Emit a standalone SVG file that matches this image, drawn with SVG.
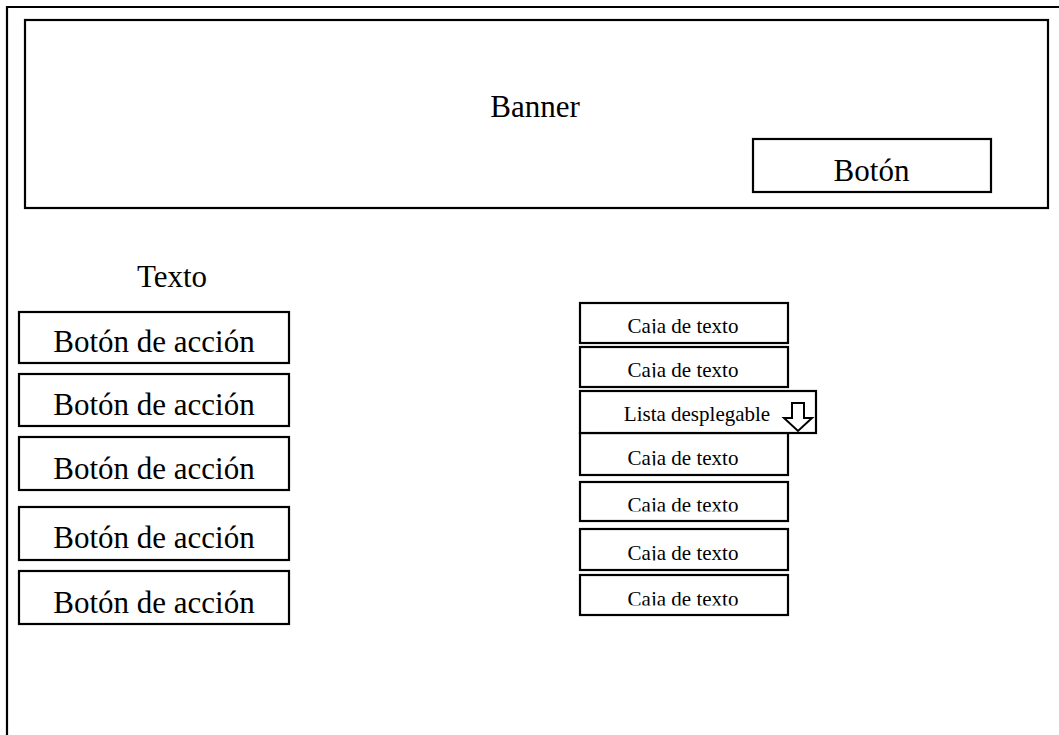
<svg xmlns="http://www.w3.org/2000/svg" width="1059" height="735" viewBox="0 0 1059 735">
<style>
.box{fill:#fff;stroke:#000;stroke-width:2.2}
.frame{fill:none;stroke:#000;stroke-width:2.2}
.big{font-family:"Liberation Serif","Times New Roman",serif;font-size:31px;fill:#000;text-anchor:middle}
.small{font-family:"Liberation Serif","Times New Roman",serif;font-size:21px;fill:#000;text-anchor:middle}
</style>
<defs>
<clipPath id="cajaClip" clipPathUnits="userSpaceOnUse">
<rect x="581" y="304" width="206" height="29.5"/>
<rect x="581" y="348" width="206" height="29.5"/>
<rect x="581" y="436" width="206" height="29.5"/>
<rect x="581" y="483" width="206" height="28.5"/>
<rect x="581" y="530" width="206" height="30.5"/>
<rect x="581" y="576" width="206" height="29.5"/>
</clipPath>
</defs>
<rect width="1059" height="735" fill="#fff"/>
<g id="frame">
<path class="frame" d="M7,735 V7 H1059"/>
</g>
<g id="banner">
<rect class="box" x="25" y="20" width="1023" height="188"/>
<text class="big" x="535" y="117">Banner</text>
</g>
<g id="boton">
<rect class="box" x="753" y="139" width="238" height="53"/>
<text class="big" x="871.5" y="181">Botón</text>
</g>
<g id="texto">
<text class="big" x="172" y="287">Texto</text>
</g>
<g id="accion1">
<rect class="box" x="19" y="312" width="270" height="51"/>
<text class="big" x="154" y="352">Botón de acción</text>
</g>
<g id="accion2">
<rect class="box" x="19" y="374" width="270" height="52"/>
<text class="big" x="154" y="415">Botón de acción</text>
</g>
<g id="accion3">
<rect class="box" x="19" y="437" width="270" height="53"/>
<text class="big" x="154" y="479">Botón de acción</text>
</g>
<g id="accion4">
<rect class="box" x="19" y="507" width="270" height="53"/>
<text class="big" x="154" y="548">Botón de acción</text>
</g>
<g id="accion5">
<rect class="box" x="19" y="571" width="270" height="53"/>
<text class="big" x="154" y="613">Botón de acción</text>
</g>
<g id="caja1">
<rect class="box" x="580" y="303" width="208" height="40"/>
<text class="small" x="683" y="333" clip-path="url(#cajaClip)">Caja de texto</text>
</g>
<g id="caja2">
<rect class="box" x="580" y="347" width="208" height="40"/>
<text class="small" x="683" y="377" clip-path="url(#cajaClip)">Caja de texto</text>
</g>
<g id="caja3">
<rect class="box" x="580" y="433" width="208" height="42"/>
<text class="small" x="683" y="465" clip-path="url(#cajaClip)">Caja de texto</text>
</g>
<g id="lista">
<rect class="box" x="580" y="391" width="236" height="42"/>
<text class="small" x="697" y="421">Lista desplegable</text>
<polygon points="792,403 804,403 804,418 812,418 798,431 784,418 792,418" fill="#fff" stroke="#000" stroke-width="2"/>
</g>
<g id="caja4">
<rect class="box" x="580" y="482" width="208" height="39"/>
<text class="small" x="683" y="511.5" clip-path="url(#cajaClip)">Caja de texto</text>
</g>
<g id="caja5">
<rect class="box" x="580" y="529" width="208" height="41"/>
<text class="small" x="683" y="560" clip-path="url(#cajaClip)">Caja de texto</text>
</g>
<g id="caja6">
<rect class="box" x="580" y="575" width="208" height="40"/>
<text class="small" x="683" y="605.5" clip-path="url(#cajaClip)">Caja de texto</text>
</g>
<g id="connectors"></g>
</svg>
